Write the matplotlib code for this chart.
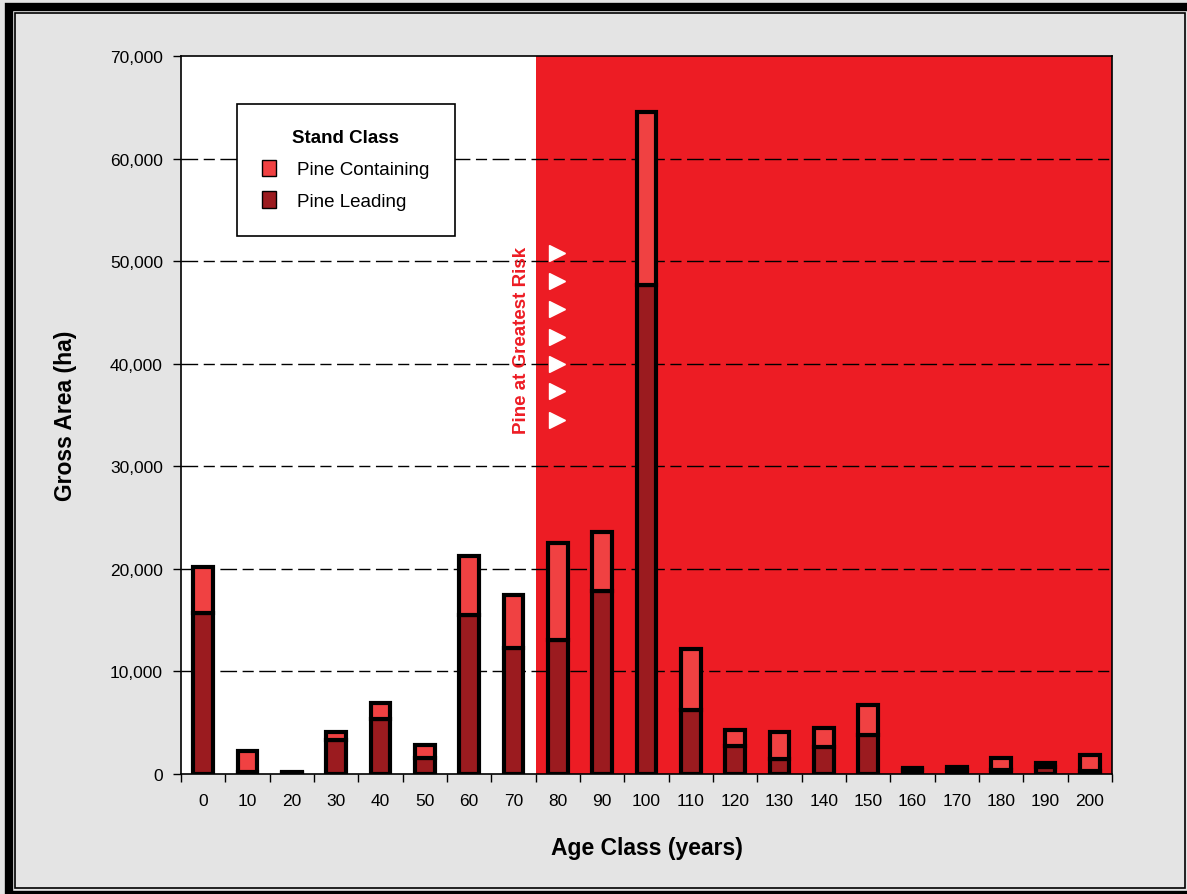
import matplotlib.pyplot as plt
from matplotlib.patches import Rectangle, Patch
import numpy as np

plt.rcParams['font.family'] = ['Liberation Sans', 'DejaVu Sans']

# age classes (years) and gross area (ha)
age_class = ['0', '10', '20', '30', '40', '50', '60', '70', '80', '90', '100',
             '110', '120', '130', '140', '150', '160', '170', '180', '190', '200']
pine_total = [20200, 2250, 150, 4100, 6900, 2800, 21250, 17450, 22500, 23600, 64500,
              12200, 4300, 4100, 4500, 6700, 550, 700, 1550, 1070, 1850]
pine_leading = [15700, 200, 100, 3300, 5400, 1550, 15500, 12300, 13100, 17800, 47700,
                6250, 2700, 1450, 2600, 3800, 350, 400, 400, 700, 300]
pine_containing = [t - l for t, l in zip(pine_total, pine_leading)]

risk_start = 7.5   # between 70 and 80
arrow_y = [50800, 48100, 45300, 42600, 40000, 37300, 34500]

c_bg = '#ED1C24'
c_cont = '#F04142'
c_lead = '#9B1B1F'

W, H = 1187, 895
fig = plt.figure(figsize=(W / 100, H / 100), dpi=100)
fig.patch.set_facecolor('#E4E4E4')

# frame round the picture (thick outer, thin inner)
fig.add_artist(Rectangle((9 / W, -1 / H), 1.02, (H - 6.5) / H, transform=fig.transFigure,
                         fill=False, edgecolor='black', linewidth=6))
fig.add_artist(Rectangle((15.5 / W, 6 / H), (1185 - 15.5) / W, (H - 13.5 - 6) / H,
                         transform=fig.transFigure, fill=False, edgecolor='black', linewidth=1.2))

ax = fig.add_axes([0.1525, 0.1341, 0.7843, 0.8022])
ax.set_facecolor('white')
x = np.arange(len(age_class))

ax.axvspan(risk_start, len(age_class) - 0.5, color=c_bg, zorder=0, lw=0)
for yv in range(10000, 70000, 10000):
    ax.axhline(yv, color='black', lw=1, linestyle=(0, (12, 4, 8, 4)), zorder=1)

ax.bar(x, pine_leading, width=0.45, color=c_lead, edgecolor='black', linewidth=3, zorder=3)
ax.bar(x, pine_containing, width=0.45, bottom=pine_leading, color=c_cont,
       edgecolor='black', linewidth=3, zorder=3)

ax.text(7.17, 42400, 'Pine at Greatest Risk', rotation=90, color=c_bg, fontsize=13.5,
        fontweight='bold', ha='center', va='center', zorder=4)
ax.plot([7.97] * len(arrow_y), arrow_y, linestyle='none', marker='>', markersize=11,
        color='white', markeredgecolor='white', zorder=4)

ax.set_xlim(-0.5, len(age_class) - 0.5)
ax.set_ylim(0, 70000)
ax.set_xticks(x)
ax.set_xticklabels(age_class, fontsize=12.5)
ax.set_xticks(np.arange(-0.5, len(age_class), 1), minor=True)
ax.tick_params(axis='x', which='major', length=0, pad=14)
ax.tick_params(axis='x', which='minor', length=6, width=1, direction='out')
ax.set_yticks(range(0, 70001, 10000))
ax.set_yticklabels([f'{v:,}' for v in range(0, 70001, 10000)], fontsize=12.5)
ax.tick_params(axis='y', length=6, width=1, direction='out', pad=7)
for s in ax.spines.values():
    s.set_linewidth(1.2)

ax.set_xlabel('Age Class (years)', fontsize=16.5, fontweight='bold', labelpad=20)
ax.set_ylabel('Gross Area (ha)', fontsize=16.5, fontweight='bold', labelpad=24)

handles = [Patch(facecolor=c_cont, edgecolor='black', label='Pine Containing'),
           Patch(facecolor=c_lead, edgecolor='black', label='Pine Leading')]
leg = ax.legend(handles=handles, title='Stand Class', loc='upper left',
                bbox_to_anchor=(0.060, 0.933), fontsize=13.5,
                title_fontproperties={'weight': 'bold', 'size': 13.5},
                frameon=True, fancybox=False, edgecolor='black', framealpha=1,
                borderpad=1.35, handlelength=0.75, handleheight=1.0, handletextpad=1.1,
                labelspacing=0.7, borderaxespad=0)
leg.get_frame().set_linewidth(1.2)
leg.set_zorder(5)

fig.savefig('out.png', dpi=100, facecolor=fig.get_facecolor())
